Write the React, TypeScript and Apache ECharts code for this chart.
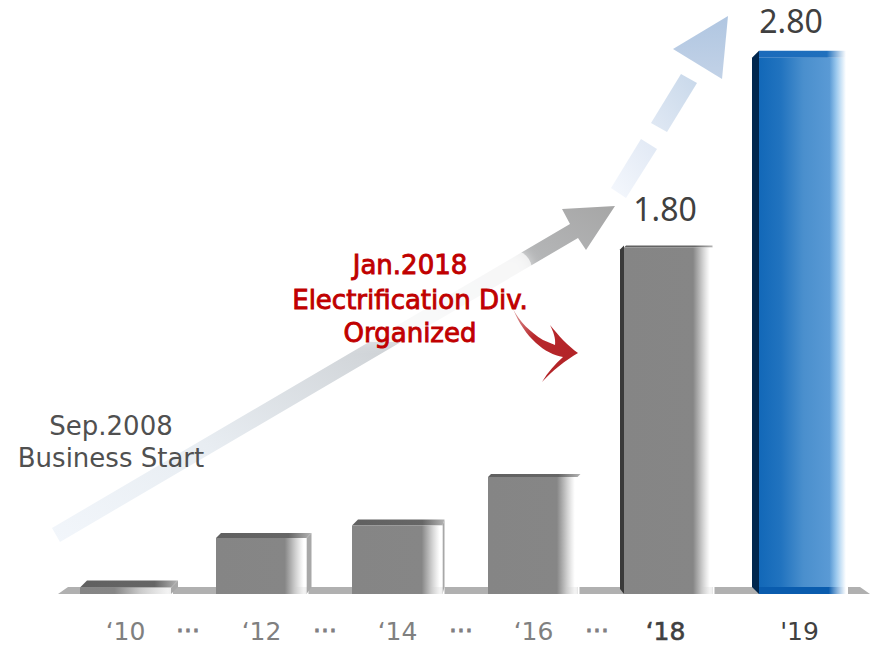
import React, { useEffect, useRef } from "react";
import * as echarts from "echarts";

const categories = ["‘10", "‘12", "‘14", "‘16", "‘18", "'19"];
const values = [0.07, 0.315, 0.385, 0.62, 1.8, 2.8];
const labelledBars = [4, 5];
const ellipsis = ["···", "···", "···", "···"];

const FONT = "'Noto Sans', sans-serif";
const WIDE = "'DejaVu Sans', sans-serif";

const fade = (start: number) => ({
  type: "linear", x: 0, y: 0, x2: 1, y2: 0,
  colorStops: [
    { offset: 0, color: "#858585" },
    { offset: start, color: "#868686" },
    { offset: start + (1 - start) * 0.45, color: "#c9c9c9" },
    { offset: 0.97, color: "rgba(255,255,255,0.85)" },
    { offset: 1, color: "rgba(255,255,255,0.8)" },
  ],
});
const topFade = (start: number) => ({
  type: "linear", x: 0, y: 0, x2: 1, y2: 0,
  colorStops: [
    { offset: 0, color: "#606060" },
    { offset: start, color: "#666666" },
    { offset: 1, color: "#b4b4b4" },
  ],
});

const barLook = [
  { l: -45.5, r: 45.5, top: 7, dx: 7, side: true, start: 0.38 },
  { l: -45.5, r: 45, top: 5, dx: 5, side: true, start: 0.76 },
  { l: -45.5, r: 45, top: 6, dx: 2, side: true, start: 0.77 },
  { l: -45.5, r: 44, top: 3, dx: 3, side: false, start: 0.77 },
  { l: -45.5, r: 43, top: 2, dx: 0, side: false, start: 0.78 },
  { l: -46.5, r: 40.5, top: 6, dx: 0, side: false, start: 0.8 },
];

function renderBar(params: any, api: any) {
  const i = params.dataIndex;
  const [cx, y] = api.coord([i, api.value(1)]);
  const base = api.coord([i, 0])[1];
  const look = barLook[i];
  const x0 = cx + look.l;
  const x1 = cx + look.r;
  const w = x1 - x0;
  const faceTop = y + look.top;
  const floorTop = base - 7;
  const children: any[] = [];
  children.push({
    type: "rect",
    shape: { x: x1, y: floorTop, width: 2, height: 7 },
    style: { fill: "#ffffff" },
  });
  if (i === 5) {
    children.push({
      type: "polygon",
      shape: { points: [[x0 - 7, faceTop], [x0, y - 1], [x0, base], [x0 - 7, base - 7]] },
      style: { fill: "#00264d" },
    });
    children.push({
      type: "rect",
      shape: { x: x0, y: faceTop, width: w, height: base - faceTop },
      style: {
        fill: {
          type: "linear", x: 0, y: 0, x2: 1, y2: 0,
          colorStops: [
            { offset: 0, color: "#1268b8" },
            { offset: 0.25, color: "#2173bf" },
            { offset: 0.51, color: "#4a8fcd" },
            { offset: 0.81, color: "#5a9ad5" },
            { offset: 0.89, color: "#9cc9ee" },
            { offset: 1, color: "#ffffff" },
          ],
        },
      },
    });
    children.push({
      type: "rect",
      shape: { x: x0, y: y - 1, width: w, height: look.top + 1 },
      style: {
        fill: {
          type: "linear", x: 0, y: 0, x2: 1, y2: 0,
          colorStops: [
            { offset: 0, color: "#1a6abb" },
            { offset: 0.78, color: "#2070bd" },
            { offset: 1, color: "#ffffff" },
          ],
        },
      },
    });
    children.push({
      type: "rect",
      shape: { x: x0, y: floorTop, width: w, height: 7 },
      style: {
        fill: {
          type: "linear", x: 0, y: 0, x2: 1, y2: 0,
          colorStops: [
            { offset: 0, color: "#0a5cae" },
            { offset: 0.8, color: "#0a5cae" },
            { offset: 1, color: "rgba(255,255,255,0.6)" },
          ],
        },
      },
    });
  } else {
    if (i === 4) {
      children.push({
        type: "polygon",
        shape: { points: [[x0 - 4, y + 4], [x0, y], [x0, base], [x0 - 4, base - 5]] },
        style: { fill: "#3a3a3a" },
      });
    }
    if (look.side) {
      children.push({
        type: "polygon",
        shape: { points: [[x1, faceTop], [x1 + look.dx, y], [x1 + look.dx, floorTop], [x1, base]] },
        style: { fill: "#a8a8a8" },
      });
    }
    children.push({
      type: "polygon",
      shape: { points: [[x0, faceTop], [x0 + Math.max(look.dx, look.top), y], [x1 + look.dx, y], [x1, faceTop]] },
      style: { fill: i === 4 ? topFade(0.8) : topFade(0.76) },
    });
    children.push({
      type: "rect",
      shape: { x: x0, y: faceTop, width: w, height: base - faceTop },
      style: { fill: fade(look.start) },
    });
  }
  if (labelledBars.includes(i)) {
    children.push({
      type: "text",
      style: {
        x: i === 4 ? cx - 4.5 : cx - 14.5,
        y: i === 4 ? y - 37 : y - 31,
        text: api.value(1).toFixed(2),
        fill: "#404040",
        font: `32px ${FONT}`,
        align: "center",
        verticalAlign: "middle",
      },
    });
  }
  return { type: "group", children };
}

const v = (x: number, y: number, x2: number, y2: number, stops: [number, string][]) => ({
  type: "linear", x, y, x2, y2,
  colorStops: stops.map(([offset, color]) => ({ offset, color })),
});

echarts.graphic.registerShape(
  "redSwoosh",
  echarts.graphic.extendPath(
    "M513 309 C520 322 530 332 543 340 L555 345 C556 338 553 331 550 325 C558 335 568 346 578 353 C566 360 552 371 542 382 C548 372 555 364 563 357 C545 354 525 338 513 309 Z",
    {}
  )
);

const dotXs = [188, 325, 461, 597];

const option: any = {
  animation: false,
  backgroundColor: "#ffffff",
  grid: { left: 57.5, right: 2.5, top: 13, bottom: 51 },
  xAxis: {
    type: "category",
    data: categories,
    axisLine: { show: false },
    axisTick: { show: false },
    splitLine: { show: false },
    axisLabel: {
      margin: 23,
      interval: 0,
      formatter: (val: string, i: number) =>
        `{${i < 4 ? "a" : i === 4 ? "b" : "c"}|${val}}`,
      rich: {
        a: { color: "#808080", fontSize: 25, fontFamily: WIDE, lineHeight: 28 },
        b: { color: "#404040", fontSize: 25, fontFamily: WIDE, lineHeight: 28, padding: [0, 8, 0, 0], textBorderColor: "#404040", textBorderWidth: 0.6 },
        c: { color: "#404040", fontSize: 25, fontFamily: WIDE, lineHeight: 28, padding: [0, 12, 0, 0] },
      },
    },
  },
  yAxis: { type: "value", min: 0, max: 3, show: false, splitLine: { show: false } },
  graphic: {
    elements: [
      {
        type: "polygon", z: 0,
        shape: { points: [[58, 594], [68, 587], [860, 587], [870, 594]] },
        style: { fill: "#b0b0b0" },
      },
      {
        type: "polygon", z: 0,
        shape: {
          points: [[52, 528], [60, 542], [578, 238], [586, 250], [615, 206], [562, 209], [570, 224]],
        },
        style: {
          fill: v(0, 1, 1, 0, [
            [0, "#f2f6fb"],
            [0.28, "#e8edf2"],
            [0.55, "#d2d6da"],
            [1, "#a6a6a6"],
          ]),
        },
      },
      {
        type: "rect", z: 0,
        shape: { x: 300, y: 250, width: 232, height: 92, r: 20 },
        style: { fill: "rgba(255,255,255,0.72)", shadowBlur: 12, shadowColor: "rgba(255,255,255,0.8)" },
      },
      {
        type: "polygon", z: 0,
        shape: { points: [[611, 188], [626, 198], [657, 149], [641, 139]] },
        style: { fill: v(0, 1, 1, 0, [[0, "#f5f8fd"], [1, "#e0e8f4"]]) },
      },
      {
        type: "polygon", z: 0,
        shape: { points: [[651, 123], [667, 132], [697, 83], [681, 74]] },
        style: { fill: v(0, 1, 1, 0, [[0, "#e1e9f4"], [1, "#c8d8ea"]]) },
      },
      {
        type: "polygon", z: 0,
        shape: { points: [[673, 49], [728, 16], [722, 79]] },
        style: { fill: v(0, 0, 0, 1, [[0, "#b0c6e1"], [1, "#c2d2e7"]]) },
      },
      {
        type: "redSwoosh", z: 10,
        style: { fill: v(0, 0, 1, 1, [[0, "#e0a0a0"], [0.35, "#b8282c"], [1, "#b02226"]]) },
      },
      ...[
        ["Jan.2018", 265],
        ["Electrification Div.", 300],
        ["Organized", 333],
      ].map(([text, y]) => ({
        type: "text", z: 20,
        x: 410, y,
        style: { text, fill: "#c00000", stroke: "#c00000", lineWidth: 0.9, font: `26px ${WIDE}`, align: "center", verticalAlign: "middle" },
      })),
      ...[
        ["Sep.2008", 426],
        ["Business Start", 458],
      ].map(([text, y]) => ({
        type: "text", z: 20,
        x: 111, y,
        style: { text, fill: "#505050", font: `26px ${WIDE}`, align: "center", verticalAlign: "middle" },
      })),
      ...ellipsis.map((text, i) => ({
        type: "text", z: 20,
        x: dotXs[i], y: 630,
        style: { text, fill: "#808080", stroke: "#808080", lineWidth: 0.8, font: `25px ${WIDE}`, align: "center", verticalAlign: "middle" },
      })),
    ],
  },
  series: [
    {
      type: "custom",
      renderItem: renderBar,
      encode: { x: 0, y: 1 },
      data: values.map((val, i) => [i, val]),
      z: 5,
    },
  ],
};

export default function App() {
  const ref = useRef<HTMLDivElement>(null);
  useEffect(() => {
    const chart = echarts.init(ref.current!, undefined, { renderer: "svg" });
    chart.setOption(option);
    return () => chart.dispose();
  }, []);
  return <div ref={ref} style={{ position: "absolute", left: 0, top: 0, width: 876, height: 645 }} />;
}
